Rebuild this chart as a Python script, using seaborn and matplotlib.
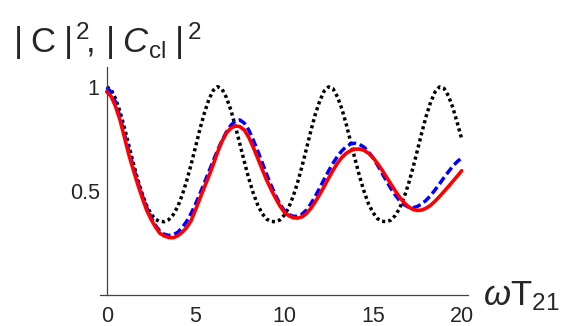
import matplotlib
matplotlib.use("Agg")
import matplotlib.pyplot as plt
import seaborn as sns

# sample positions (omega*T21), step 0.25, and curves
wt = [0.0, 0.25, 0.5, 0.75, 1.0, 1.25, 1.5, 1.75, 2.0, 2.25,
      2.5, 2.75, 3.0, 3.25, 3.5, 3.75, 4.0, 4.25, 4.5, 4.75,
      5.0, 5.25, 5.5, 5.75, 6.0, 6.25, 6.5, 6.75, 7.0, 7.25,
      7.5, 7.75, 8.0, 8.25, 8.5, 8.75, 9.0, 9.25, 9.5, 9.75,
      10.0, 10.25, 10.5, 10.75, 11.0, 11.25, 11.5, 11.75, 12.0, 12.25,
      12.5, 12.75, 13.0, 13.25, 13.5, 13.75, 14.0, 14.25, 14.5, 14.75,
      15.0, 15.25, 15.5, 15.75, 16.0, 16.25, 16.5, 16.75, 17.0, 17.25,
      17.5, 17.75, 18.0, 18.25, 18.5, 18.75, 19.0, 19.25, 19.5, 19.75,
      20.0]

# |C_cl|^2 (black dotted)
c_classical = [1.000, 0.985, 0.942, 0.880, 0.802, 0.717, 0.632, 0.553, 0.484, 0.428,
               0.388, 0.362, 0.352, 0.351, 0.361, 0.385, 0.423, 0.478, 0.546, 0.624,
               0.709, 0.795, 0.873, 0.937, 0.982, 1.000, 0.988, 0.947, 0.886, 0.809,
               0.725, 0.640, 0.560, 0.490, 0.433, 0.391, 0.364, 0.352, 0.351, 0.359,
               0.382, 0.418, 0.472, 0.538, 0.616, 0.701, 0.787, 0.867, 0.931, 0.979,
               0.999, 0.990, 0.951, 0.893, 0.817, 0.733, 0.649, 0.567, 0.496, 0.436,
               0.395, 0.366, 0.353, 0.351, 0.358, 0.380, 0.415, 0.467, 0.532, 0.609,
               0.693, 0.779, 0.859, 0.926, 0.975, 0.999, 0.992, 0.956, 0.899, 0.826,
               0.748]

# |C|^2 (blue dashed)
c_blue = [0.995, 0.975, 0.925, 0.855, 0.772, 0.690, 0.615, 0.543, 0.478, 0.420,
          0.372, 0.333, 0.305, 0.290, 0.285, 0.288, 0.300, 0.322, 0.352, 0.390,
          0.435, 0.485, 0.537, 0.590, 0.643, 0.695, 0.742, 0.783, 0.815, 0.835,
          0.840, 0.825, 0.792, 0.745, 0.693, 0.637, 0.580, 0.528, 0.480, 0.437,
          0.405, 0.386, 0.377, 0.377, 0.387, 0.407, 0.437, 0.473, 0.513, 0.555,
          0.595, 0.632, 0.665, 0.692, 0.712, 0.725, 0.728, 0.722, 0.709, 0.687,
          0.658, 0.624, 0.586, 0.548, 0.512, 0.480, 0.452, 0.433, 0.421, 0.418,
          0.424, 0.437, 0.454, 0.477, 0.504, 0.533, 0.563, 0.591, 0.618, 0.640,
          0.658]

# |C|^2 (red solid)
c_red = [0.976, 0.953, 0.905, 0.840, 0.757, 0.672, 0.600, 0.530, 0.466, 0.407,
         0.362, 0.325, 0.295, 0.282, 0.275, 0.274, 0.283, 0.300, 0.322, 0.355,
         0.407, 0.462, 0.516, 0.569, 0.625, 0.686, 0.738, 0.778, 0.801, 0.811,
         0.808, 0.792, 0.757, 0.710, 0.658, 0.605, 0.553, 0.508, 0.466, 0.428,
         0.397, 0.380, 0.370, 0.368, 0.374, 0.390, 0.415, 0.447, 0.482, 0.520,
         0.560, 0.598, 0.632, 0.660, 0.680, 0.693, 0.700, 0.700, 0.694, 0.680,
         0.659, 0.632, 0.601, 0.567, 0.533, 0.500, 0.469, 0.443, 0.423, 0.410,
         0.405, 0.407, 0.416, 0.430, 0.450, 0.472, 0.496, 0.520, 0.545, 0.570,
         0.596]

x_ticks = [0, 5, 10, 15, 20]
y_ticks = [0.5, 1]
y_tick_labels = ["0.5", "1"]

sns.set_style("white")
plt.rcParams["font.family"] = ["Liberation Sans", "DejaVu Sans"]
plt.rcParams["mathtext.fontset"] = "custom"
plt.rcParams["mathtext.rm"] = "Liberation Sans"
plt.rcParams["mathtext.it"] = "Liberation Sans:italic"
plt.rcParams["mathtext.bf"] = "Liberation Sans:bold"

fig = plt.figure(figsize=(5.61, 3.26), dpi=100)
ax = fig.add_axes([100 / 561, 31.3 / 326, 368.3 / 561, 228 / 326])

sns.lineplot(x=wt, y=c_classical, ax=ax, color="black", lw=2.5)
ax.lines[-1].set_linestyle((0, (0.9, 0.9)))
sns.lineplot(x=wt, y=c_blue, ax=ax, color="#0000ff", lw=2.5)
ax.lines[-1].set_linestyle((0, (2.4, 1.1)))
sns.lineplot(x=wt, y=c_red, ax=ax, color="#ff0000", lw=2.6)

ax.set_xlim(-0.377, 20.37)
ax.set_ylim(0, 1.096)

ax.spines["top"].set_visible(False)
ax.spines["right"].set_visible(False)
ax.spines["left"].set_position(("data", 0))
for s in ["left", "bottom"]:
    ax.spines[s].set_color("#444444")
    ax.spines[s].set_linewidth(0.9)

ax.set_xticks(x_ticks)
ax.set_xticklabels([str(t) for t in x_ticks])
ax.set_yticks(y_ticks)
ax.set_yticklabels(y_tick_labels)
ax.tick_params(axis="x", direction="in", length=4, width=0.8, color="#444444",
               labelsize=15.5, pad=8)
ax.tick_params(axis="y", direction="in", length=4, width=0.8, color="#444444",
               labelsize=15.5, pad=5)
ax.set_xlabel("")
ax.set_ylabel("")

fig.text(13 / 561, (326 - 53) / 326,
         r"$|\;\mathrm{C}\;|^{\,2}\!,\,|\;C_{\mathrm{cl}}\;|^{\,2}$",
         fontsize=25, va="baseline", ha="left")
fig.text(483 / 561, (326 - 305) / 326, r"$\omega\mathrm{T}_{21}$",
         fontsize=25, va="baseline", ha="left")

fig.savefig("out.png", dpi=100)
